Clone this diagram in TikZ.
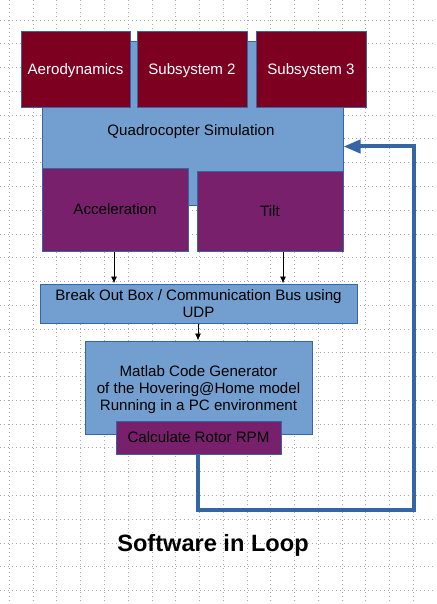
\documentclass[tikz,border=0pt]{standalone}
\usepackage{fontspec}
\setmainfont{Liberation Sans}
\usetikzlibrary{arrows.meta}
\definecolor{dred}{HTML}{7D0021}
\definecolor{sblue}{HTML}{729FCF}
\definecolor{lblue}{HTML}{3465A4}
\definecolor{purp}{HTML}{78206B}
\definecolor{gridc}{HTML}{A8A8A8}
\begin{document}
\begin{tikzpicture}[x=1pt,y=-1pt,
  font=\fontsize{15.1}{17}\selectfont,
  box/.style={draw=lblue, line width=1pt, inner sep=0pt, align=center},
  one/.style={text height=13.5pt, text depth=3.5pt},
  redbox/.style={box, one, fill=dred, text=white, minimum width=109pt, minimum height=76pt},
  bluebox/.style={box, fill=sblue, text=black},
  purpbox/.style={box, fill=purp, text=black},
  arr/.style={draw=black, line width=0.9pt, -{Latex[length=7pt,width=6pt]}},
  fb/.style={draw=lblue, line width=4pt, line join=miter, -{Triangle[length=17pt,width=13pt]}},
  gridline/.style={draw=gridc, line width=0.8pt, dash pattern=on 0.8pt off 3.2pt}]
\useasboundingbox (0,0) rectangle (436,604);
% background grid
\foreach \k in {0,...,17} {\draw[gridline] (9.3+23.77*\k,0) -- (9.3+23.77*\k,604);}
\foreach \k in {0,...,24} {\draw[gridline] (0,20+23.77*\k) -- (436,20+23.77*\k);}
% boxes
\node[bluebox, minimum width=301pt, minimum height=163pt] (quad) at (192.5,123.5) {};
\node[one] (qtext) at (191,131) {Quadrocopter Simulation};
\node[redbox] (aero) at (75.5,70) {Aerodynamics};
\node[redbox, minimum width=110pt] (sub2) at (192,70) {Subsystem 2};
\node[redbox, minimum width=110pt] (sub3) at (311,70) {Subsystem 3};
\node[purpbox, one, minimum width=146pt, minimum height=83pt] (acc) at (115,209.5) {Acceleration};
\node[purpbox, one, minimum width=146pt, minimum height=80pt] (tilt) at (270,211) {Tilt};
\node[bluebox, minimum width=317pt, minimum height=39pt] (bob) at (198.5,303.5) {Break Out Box / Communication Bus using\\UDP};
\node[bluebox, minimum width=227pt, minimum height=93pt] (mat) at (198.5,387.5) {};
\node[align=center] (mtext) at (198.5,389.5) {Matlab Code Generator\\of the Hovering@Home model\\Running in a PC environment};
\node[purpbox, one, minimum width=165pt, minimum height=33pt] (calc) at (198.5,437.5) {Calculate Rotor RPM};
\node[font=\fontsize{23.6}{28}\selectfont\bfseries] (title) at (213,545) {Software in Loop};
% connectors
\draw[arr] (acc.south -| 114,0) -- (114,0 |- bob.north);
\draw[arr] (tilt.south -| 283,0) -- (283,0 |- bob.north);
\draw[arr] (bob.south -| 198,0) -- (198,0 |- mat.north);
\coordinate (fbc) at (414,510);
\coordinate (qin) at (quad.east |- 0,146.5);
\draw[fb] (calc.south -| 198,0) -- (198,0 |- fbc) -- (fbc) -- (fbc |- qin) -- (qin);
\end{tikzpicture}
\end{document}
